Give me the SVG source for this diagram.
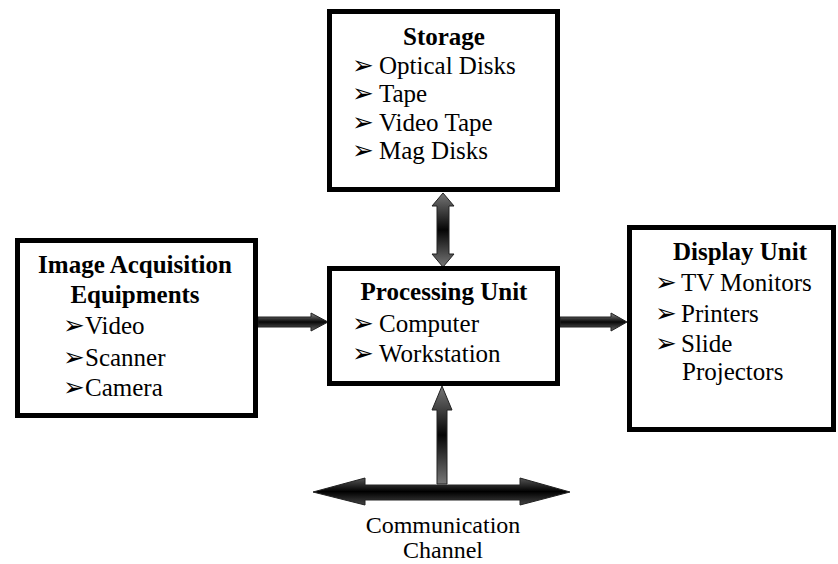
<svg xmlns="http://www.w3.org/2000/svg" width="838" height="564" viewBox="0 0 838 564">
<style>
svg text.s{font-family:"Liberation Serif","Times New Roman",serif !important}
svg text.bu{font-family:"DejaVu Sans",sans-serif !important}
</style>
<defs>
<linearGradient id="gh" x1="0" y1="0" x2="0" y2="1">
<stop offset="0" stop-color="#888"/>
<stop offset="0.5" stop-color="#080808"/>
<stop offset="1" stop-color="#666"/>
</linearGradient>
<linearGradient id="gv" x1="0" y1="0" x2="0" y2="1">
<stop offset="0" stop-color="#777"/>
<stop offset="0.5" stop-color="#050505"/>
<stop offset="1" stop-color="#777"/>
</linearGradient>
<linearGradient id="gb" x1="0" y1="0" x2="0" y2="1">
<stop offset="0" stop-color="#555"/>
<stop offset="0.5" stop-color="#000"/>
<stop offset="1" stop-color="#444"/>
</linearGradient>
</defs>

<g id="connectors" stroke="#222" stroke-width="1">
<path fill="url(#gh)" d="M258,317 L311,317 L311,313 L328,322 L311,331 L311,327 L258,327 Z"/>
<path fill="url(#gh)" d="M560,317 L611,317 L611,313 L627,322 L611,331 L611,327 L560,327 Z"/>
<path fill="url(#gv)" d="M443,193 L454,206 L449,206 L449,254 L454,254 L443,267 L432,254 L437,254 L437,206 L432,206 Z"/>
<path fill="url(#gv)" d="M442,386 L452,410 L447,410 L447,484 L437,484 L437,410 L432,410 Z"/>
<path fill="url(#gb)" d="M313,492 L365,478 L365,485 L520,485 L520,478 L570,492 L520,505 L520,500 L365,500 L365,505 Z"/>
</g>

<g id="storage">
<rect fill="#fff" stroke="#000" stroke-width="5" x="329.5" y="11.5" width="228" height="178"/>
<text class="s" style="font-family:'Liberation Serif',serif !important" font-size="25" font-weight="bold" text-anchor="middle" x="444" y="45">Storage</text>
<text class="bu" style="font-family:'DejaVu Sans',sans-serif !important" font-size="26" x="352" y="74">➢</text><text class="s" style="font-family:'Liberation Serif',serif !important" font-size="25" x="379" y="74">Optical Disks</text>
<text class="bu" style="font-family:'DejaVu Sans',sans-serif !important" font-size="26" x="352" y="102">➢</text><text class="s" style="font-family:'Liberation Serif',serif !important" font-size="25" x="379" y="102">Tape</text>
<text class="bu" style="font-family:'DejaVu Sans',sans-serif !important" font-size="26" x="352" y="131">➢</text><text class="s" style="font-family:'Liberation Serif',serif !important" font-size="25" x="379" y="131">Video Tape</text>
<text class="bu" style="font-family:'DejaVu Sans',sans-serif !important" font-size="26" x="352" y="159">➢</text><text class="s" style="font-family:'Liberation Serif',serif !important" font-size="25" x="379" y="159">Mag Disks</text>
</g>

<g id="acquisition">
<rect fill="#fff" stroke="#000" stroke-width="5" x="17.5" y="240.5" width="238" height="175"/>
<text class="s" style="font-family:'Liberation Serif',serif !important" font-size="25" font-weight="bold" text-anchor="middle" x="135" y="273">Image Acquisition</text>
<text class="s" style="font-family:'Liberation Serif',serif !important" font-size="25" font-weight="bold" text-anchor="middle" x="135" y="303">Equipments</text>
<text class="bu" style="font-family:'DejaVu Sans',sans-serif !important" font-size="26" x="63" y="334">➢</text><text class="s" style="font-family:'Liberation Serif',serif !important" font-size="25" x="85" y="334">Video</text>
<text class="bu" style="font-family:'DejaVu Sans',sans-serif !important" font-size="26" x="63" y="366">➢</text><text class="s" style="font-family:'Liberation Serif',serif !important" font-size="25" x="85" y="366">Scanner</text>
<text class="bu" style="font-family:'DejaVu Sans',sans-serif !important" font-size="26" x="63" y="396">➢</text><text class="s" style="font-family:'Liberation Serif',serif !important" font-size="25" x="85" y="396">Camera</text>
</g>

<g id="processing">
<rect fill="#fff" stroke="#000" stroke-width="5" x="329.5" y="268.5" width="228" height="115"/>
<text class="s" style="font-family:'Liberation Serif',serif !important" font-size="25" font-weight="bold" text-anchor="middle" x="444" y="300">Processing Unit</text>
<text class="bu" style="font-family:'DejaVu Sans',sans-serif !important" font-size="26" x="352" y="332">➢</text><text class="s" style="font-family:'Liberation Serif',serif !important" font-size="25" x="379" y="332">Computer</text>
<text class="bu" style="font-family:'DejaVu Sans',sans-serif !important" font-size="26" x="352" y="362">➢</text><text class="s" style="font-family:'Liberation Serif',serif !important" font-size="25" x="379" y="362">Workstation</text>
</g>

<g id="display">
<rect fill="#fff" stroke="#000" stroke-width="5" x="629.5" y="227.5" width="204" height="202"/>
<text class="s" style="font-family:'Liberation Serif',serif !important" font-size="25" font-weight="bold" text-anchor="middle" x="740" y="260">Display Unit</text>
<text class="bu" style="font-family:'DejaVu Sans',sans-serif !important" font-size="26" x="655" y="291">➢</text><text class="s" style="font-family:'Liberation Serif',serif !important" font-size="25" x="681" y="291">TV Monitors</text>
<text class="bu" style="font-family:'DejaVu Sans',sans-serif !important" font-size="26" x="655" y="322">➢</text><text class="s" style="font-family:'Liberation Serif',serif !important" font-size="25" x="681" y="322">Printers</text>
<text class="bu" style="font-family:'DejaVu Sans',sans-serif !important" font-size="26" x="655" y="352">➢</text><text class="s" style="font-family:'Liberation Serif',serif !important" font-size="25" x="681" y="352">Slide</text>
<text class="s" style="font-family:'Liberation Serif',serif !important" font-size="25" x="682" y="380">Projectors</text>
</g>

<g id="channel">
<text class="s" style="font-family:'Liberation Serif',serif !important" font-size="24" text-anchor="middle" x="443" y="533">Communication</text>
<text class="s" style="font-family:'Liberation Serif',serif !important" font-size="24" text-anchor="middle" x="443" y="558">Channel</text>
</g>
</svg>
